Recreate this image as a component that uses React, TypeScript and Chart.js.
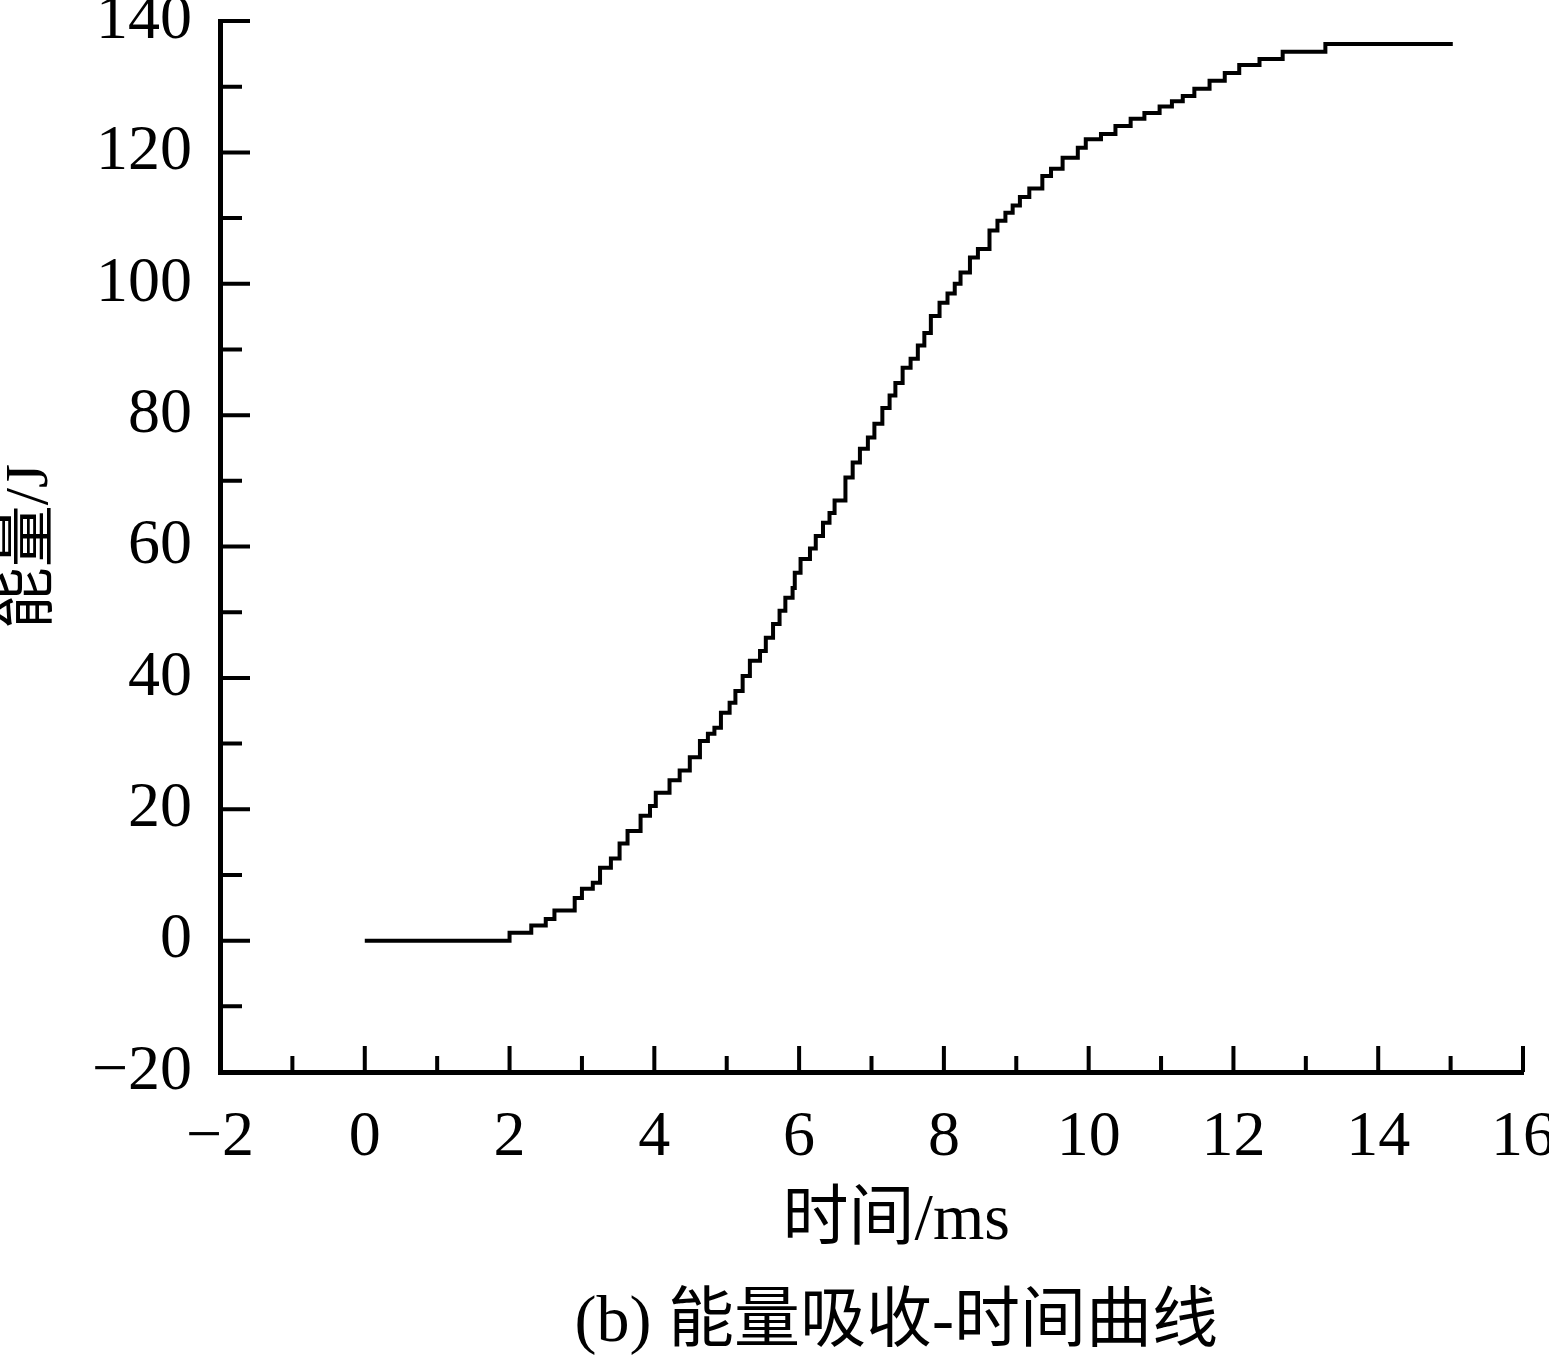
import { useEffect, useRef } from "react";
import { Chart, registerables, type ChartConfiguration, type Plugin } from "chart.js";

Chart.register(...registerables);

// 能量吸收-时间曲线, values
const timeMs = [
  0, 1.95, 2.0, 2.3, 2.5, 2.62, 2.9, 3.0, 3.15, 3.25, 3.4, 3.52, 3.63, 3.81,
  3.94, 4.02, 4.21, 4.35, 4.49, 4.63, 4.74, 4.83, 4.92, 5.04, 5.12, 5.22, 5.32,
  5.46, 5.54, 5.64, 5.73, 5.81, 5.91, 5.94, 6.02, 6.15, 6.23, 6.33, 6.42, 6.49,
  6.64, 6.74, 6.84, 6.95, 7.04, 7.15, 7.25, 7.33, 7.43, 7.54, 7.64, 7.73, 7.82,
  7.94, 8.05, 8.15, 8.23, 8.36, 8.47, 8.63, 8.74, 8.85, 8.95, 9.05, 9.18, 9.36,
  9.48, 9.64, 9.85, 9.96, 10.17, 10.37, 10.58, 10.77, 10.98, 11.15, 11.3, 11.46,
  11.67, 11.88, 12.08, 12.36, 12.68, 13.27, 15.03,
];
const energyJ = [
  0, 0, 1.2, 2.3, 3.3, 4.6, 6.5, 7.9, 8.8, 11.1, 12.5, 14.8, 16.7, 19.0, 20.5,
  22.5, 24.4, 25.9, 27.9, 30.4, 31.5, 32.4, 34.7, 36.2, 38.0, 40.3, 42.6, 44.1,
  46.1, 48.2, 50.2, 52.2, 53.7, 56.0, 58.1, 59.7, 61.6, 63.6, 65.1, 67.0, 70.5,
  72.8, 74.9, 76.6, 78.7, 81.1, 83.0, 84.9, 87.2, 88.6, 90.6, 92.5, 95.1, 97.1,
  98.5, 100.0, 101.7, 104.0, 105.3, 108.1, 109.6, 110.8, 111.9, 113.2, 114.5,
  116.4, 117.5, 119.2, 120.7, 122.0, 122.8, 124.0, 125.1, 126.0, 127.0, 127.8,
  128.6, 129.7, 130.9, 132.1, 133.3, 134.2, 135.3, 136.5, 136.5,
];

const xMajorTicks = [-2, 0, 2, 4, 6, 8, 10, 12, 14, 16];
const xMinorTicks = [-1, 1, 3, 5, 7, 9, 11, 13, 15];
const yMajorTicks = [-20, 0, 20, 40, 60, 80, 100, 120, 140];
const yMinorTicks = [-10, 10, 30, 50, 70, 90, 110, 130];

const FONT = "'Liberation Serif', 'Times New Roman', 'Noto Sans CJK SC', serif";

const minus = (v: number | string) => String(v).replace("-", "\u2212");

// ticks point into the plot, majors longer than minors
const innerTicks: Plugin<"line"> = {
  id: "innerTicks",
  afterDraw(chart) {
    const { ctx, chartArea } = chart;
    const x = chart.scales.x;
    const y = chart.scales.y;
    ctx.save();
    ctx.strokeStyle = "#000";
    ctx.lineWidth = 4;
    ctx.beginPath();
    const xTick = (v: number, len: number) => {
      const px = x.getPixelForValue(v);
      ctx.moveTo(px, chartArea.bottom);
      ctx.lineTo(px, chartArea.bottom - len);
    };
    const yTick = (v: number, len: number) => {
      const py = y.getPixelForValue(v);
      ctx.moveTo(chartArea.left, py);
      ctx.lineTo(chartArea.left + len, py);
    };
    xMajorTicks.forEach((v) => xTick(v, 26));
    xMinorTicks.forEach((v) => xTick(v, 16));
    yMajorTicks.forEach((v) => yTick(v, 30));
    yMinorTicks.forEach((v) => yTick(v, 22));
    ctx.stroke();
    ctx.restore();
  },
};

export default function App() {
  const canvasRef = useRef<HTMLCanvasElement>(null);

  useEffect(() => {
    document.body.style.margin = "0";
    const canvas = canvasRef.current;
    if (!canvas) return;

    const config: ChartConfiguration<"line"> = {
      type: "line",
      data: {
        datasets: [
          {
            data: timeMs.map((t, i) => ({ x: t, y: energyJ[i] })),
            borderColor: "#000",
            borderWidth: 4,
            stepped: true,
            pointRadius: 0,
            fill: false,
          },
        ],
      },
      options: {
        responsive: false,
        animation: false,
        layout: { padding: { top: 21, right: 26, bottom: 0, left: 0 } },
        plugins: {
          legend: { display: false },
          tooltip: { enabled: false },
          title: {
            display: true,
            position: "bottom",
            fullSize: false,
            // leading spaces nudge the centred caption right, as in the figure
            text: "   (b) 能量吸收-时间曲线",
            color: "#000",
            font: { family: FONT, size: 66, weight: "normal", lineHeight: 1 },
            padding: { top: 0, bottom: 5 },
          },
        },
        scales: {
          x: {
            type: "linear",
            min: -2,
            max: 16,
            afterFit: (scale) => {
              scale.height = 219;
              scale.paddingLeft = 0;
              scale.paddingRight = 0;
            },
            ticks: {
              stepSize: 2,
              color: "#000",
              padding: 28,
              maxRotation: 0,
              font: { family: FONT, size: 64 },
              callback: (v) => minus(v),
            },
            grid: { drawOnChartArea: false, drawTicks: false },
            border: { color: "#000", width: 5 },
            title: {
              display: true,
              text: "   时间/ms",
              color: "#000",
              font: { family: FONT, size: 66, lineHeight: 1 },
              padding: { top: 0, bottom: 36 },
            },
          },
          y: {
            type: "linear",
            min: -20,
            max: 140,
            afterFit: (scale) => {
              scale.width = 220;
              scale.paddingTop = 0;
              scale.paddingBottom = 0;
            },
            ticks: {
              stepSize: 20,
              color: "#000",
              padding: 28,
              font: { family: FONT, size: 64 },
              callback: (v) => minus(v),
            },
            grid: { drawOnChartArea: false, drawTicks: false },
            border: { color: "#000", width: 5 },
            title: {
              display: true,
              text: "能量/J",
              color: "#000",
              font: { family: FONT, size: 62, lineHeight: 1 },
              padding: { top: 0, bottom: 0 },
            },
          },
        },
      },
      plugins: [innerTicks],
    };

    const chart = new Chart(canvas, config);
    return () => chart.destroy();
  }, []);

  return <canvas ref={canvasRef} width={1549} height={1362} />;
}
